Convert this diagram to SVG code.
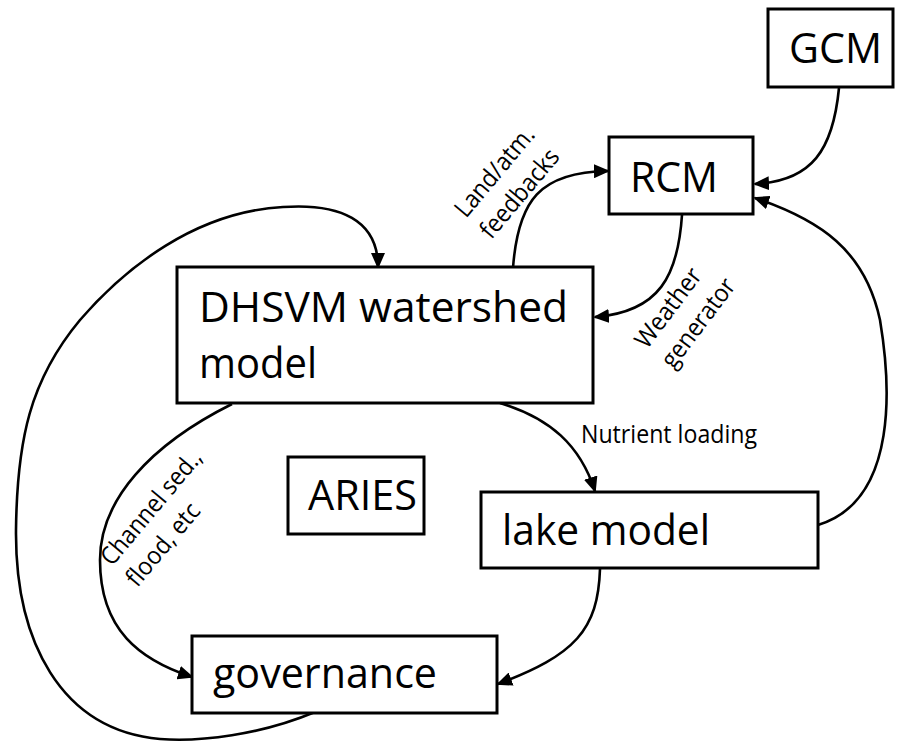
<svg xmlns="http://www.w3.org/2000/svg" width="898" height="741" viewBox="0 0 898 741">
  <style>
    .box { fill: #ffffff; stroke: #000000; stroke-width: 3; }
    .big { font-family: "Open Sans", "Noto Sans", "Liberation Sans", sans-serif; font-size: 42px; fill: #000000; }
    .small { font-family: "Open Sans", "Noto Sans", "Liberation Sans", sans-serif; font-size: 25px; fill: #000000; }
    .link { fill: none; stroke: #000000; stroke-width: 2.6; marker-end: url(#arrow); }
  </style>
  <defs>
    <marker id="arrow" markerUnits="userSpaceOnUse" markerWidth="16" markerHeight="14" refX="14" refY="7" orient="auto">
      <path d="M0,0 L16,7 L0,14 z" fill="#000000"/>
    </marker>
  </defs>
  <rect width="898" height="741" fill="#ffffff"/>

  <!-- connectors -->
  <g id="connectors">
    <!-- GCM to RCM -->
    <path class="link" d="M 839 88 C 833 150, 812 181, 755 184"/>
    <!-- lake model to RCM -->
    <path class="link" d="M 818 525 C 900 500, 890 380, 880 320 C 865 250, 820 220, 755 198"/>
    <!-- RCM to DHSVM: weather generator -->
    <path class="link" d="M 682 215 C 678 275, 660 312, 595 317"/>
    <!-- DHSVM to RCM: land/atmosphere feedbacks -->
    <path class="link" d="M 513 268 C 518 200, 540 172, 608 171"/>
    <!-- DHSVM to lake model: nutrient loading -->
    <path class="link" d="M 500 403 C 550 418, 580 445, 595 491"/>
    <!-- lake model to governance -->
    <path class="link" d="M 600 569 C 598 630, 575 655, 498 684"/>
    <!-- DHSVM to governance: channel sediment, flood -->
    <path class="link" d="M 232 404 C 150 445, 100 500, 100 560 C 100 630, 140 660, 192 677"/>
    <!-- governance back to DHSVM -->
    <path class="link" d="M 315 712 C 260 735, 200 742, 160 739 C 60 730, 15 640, 16 530 C 17 440, 30 380, 80 320 C 125 268, 195 212, 283 207 C 340 203, 378 220, 378 267"/>
  </g>

  <!-- connector labels -->
  <g id="labels">
    <g transform="translate(466,219) rotate(-50)">
      <text class="small" x="0" y="0" textLength="109" lengthAdjust="spacingAndGlyphs">Land/atm.</text>
      <text class="small" x="0" y="33" textLength="108" lengthAdjust="spacingAndGlyphs">feedbacks</text>
    </g>
    <g transform="translate(647,350) rotate(-53)">
      <text class="small" x="0" y="0" textLength="93" lengthAdjust="spacingAndGlyphs">Weather</text>
      <text class="small" x="0" y="33" textLength="105" lengthAdjust="spacingAndGlyphs">generator</text>
    </g>
    <g transform="translate(112,567) rotate(-50)">
      <text class="small" x="0" y="0" textLength="142" lengthAdjust="spacingAndGlyphs">Channel sed.,</text>
      <text class="small" x="0" y="33" textLength="100" lengthAdjust="spacingAndGlyphs">flood, etc</text>
    </g>
    <text class="small" x="581" y="443" textLength="176" lengthAdjust="spacingAndGlyphs">Nutrient loading</text>
  </g>

  <!-- nodes -->
  <g id="gcm">
    <rect class="box" x="768" y="9" width="125" height="78"/>
    <text class="big" x="789" y="63" textLength="93" lengthAdjust="spacingAndGlyphs">GCM</text>
  </g>
  <g id="rcm">
    <rect class="box" x="609" y="137" width="144" height="77"/>
    <text class="big" x="630" y="192" textLength="88" lengthAdjust="spacingAndGlyphs">RCM</text>
  </g>
  <g id="dhsvm">
    <rect class="box" x="177" y="267" width="416" height="136"/>
    <text class="big" x="199" y="322" textLength="369" lengthAdjust="spacingAndGlyphs">DHSVM watershed</text>
    <text class="big" x="199" y="378" textLength="118" lengthAdjust="spacingAndGlyphs">model</text>
  </g>
  <g id="aries">
    <rect class="box" x="288" y="457" width="136" height="77"/>
    <text class="big" x="308" y="510" textLength="109" lengthAdjust="spacingAndGlyphs">ARIES</text>
  </g>
  <g id="lake">
    <rect class="box" x="481" y="492" width="337" height="76"/>
    <text class="big" x="502" y="545" textLength="208" lengthAdjust="spacingAndGlyphs">lake model</text>
  </g>
  <g id="governance">
    <rect class="box" x="192" y="636" width="305" height="77"/>
    <text class="big" x="213" y="688" textLength="224" lengthAdjust="spacingAndGlyphs">governance</text>
  </g>
</svg>
